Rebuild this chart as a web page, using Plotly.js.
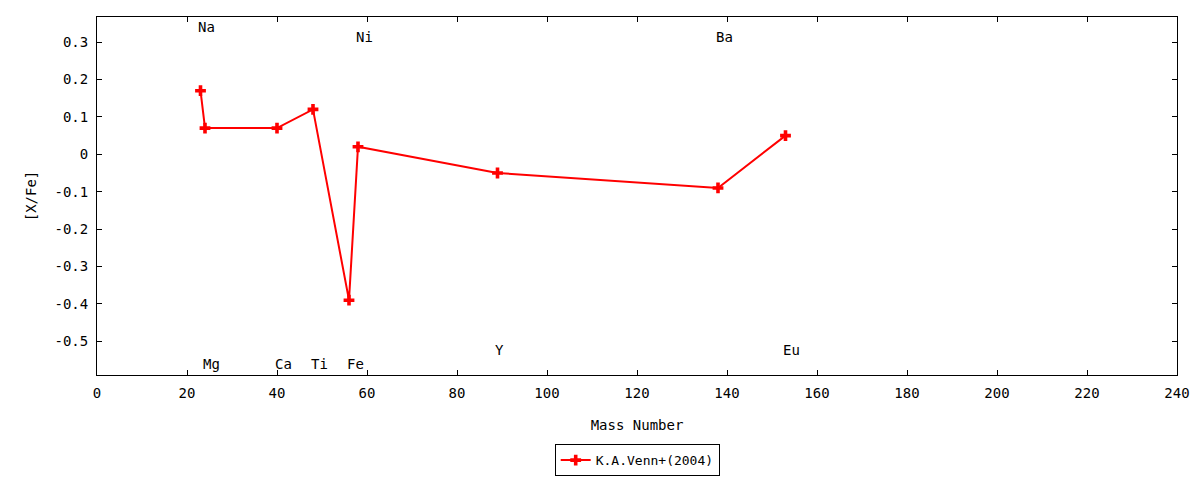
<!DOCTYPE html>
<html>
<head>
<meta charset="utf-8">
<script src="https://cdn.plot.ly/plotly-3.0.1.min.js"></script>
<style>
  html, body { margin: 0; padding: 0; background: #fff; }
  #chart { width: 1200px; height: 480px; }
</style>
</head>
<body>
<div id="chart"></div>
<script>
// abundance pattern, Venn et al. (2004)
var massNumber = [23, 24, 40, 48, 56, 58, 89, 138, 153];
var xFe = [0.17, 0.07, 0.07, 0.12, -0.39, 0.02, -0.05, -0.09, 0.05];

// element labels and where they sit
var elements = ['Na', 'Mg', 'Ca', 'Ti', 'Fe', 'Ni', 'Y', 'Ba', 'Eu'];
var labelX = [22, 23, 39, 47, 55, 57, 88, 137, 152];
var labelY = [0.34, -0.56, -0.56, -0.56, -0.56, 0.313, -0.522, 0.313, -0.522];

var yTicks = [0.3, 0.2, 0.1, 0, -0.1, -0.2, -0.3, -0.4, -0.5];
var yTickText = ['0.3', '0.2', '0.1', '0', '-0.1', '-0.2', '-0.3', '-0.4', '-0.5'];

var mono = 'DejaVu Sans Mono, monospace';

var venn = {
  x: massNumber,
  y: xFe,
  mode: 'lines+markers',
  name: 'K.A.Venn+(2004)',
  line: {color: '#ff0000', width: 2},
  marker: {symbol: 'cross', size: 9, color: '#ff0000'},
  type: 'scatter'
};

var notes = elements.map(function(el, i){
  return {
    x: labelX[i], y: labelY[i], text: el,
    xref: 'x', yref: 'y', showarrow: false,
    xanchor: 'left', yanchor: 'middle',
    font: {family: mono, size: 14, color: '#000'}
  };
});

var layout = {
  width: 1200,
  height: 480,
  margin: {l: 97, r: 23, t: 17, b: 105},
  paper_bgcolor: '#fff',
  plot_bgcolor: '#fff',
  font: {family: mono, size: 14, color: '#000'},
  showlegend: true,
  xaxis: {
    range: [0, 240],
    dtick: 20,
    ticks: 'inside',
    ticklen: 5,
    tickcolor: '#000',
    ticklabelstandoff: 5,
    mirror: 'ticks',
    showline: true,
    linecolor: '#000',
    linewidth: 1,
    showgrid: false,
    zeroline: false,
    automargin: false,
    title: {text: 'Mass Number', standoff: 20, font: {family: mono, size: 14}}
  },
  yaxis: {
    range: [-0.59, 0.367],
    tickvals: yTicks,
    ticktext: yTickText,
    ticks: 'inside',
    ticklen: 5,
    tickcolor: '#000',
    ticklabelstandoff: 5,
    mirror: 'ticks',
    showline: true,
    linecolor: '#000',
    linewidth: 1,
    showgrid: false,
    zeroline: false,
    automargin: false,
    title: {text: '[X/Fe]', standoff: 14, font: {family: mono, size: 14}}
  },
  legend: {
    orientation: 'h',
    xref: 'container',
    yref: 'container',
    x: 0.531,
    xanchor: 'center',
    y: 0.008,
    yanchor: 'bottom',
    bordercolor: '#000',
    borderwidth: 1,
    bgcolor: '#fff',
    font: {family: mono, size: 13}
  },
  annotations: notes
};

Plotly.newPlot('chart', [venn], layout, {displayModeBar: false, staticPlot: true});
</script>
</body>
</html>
